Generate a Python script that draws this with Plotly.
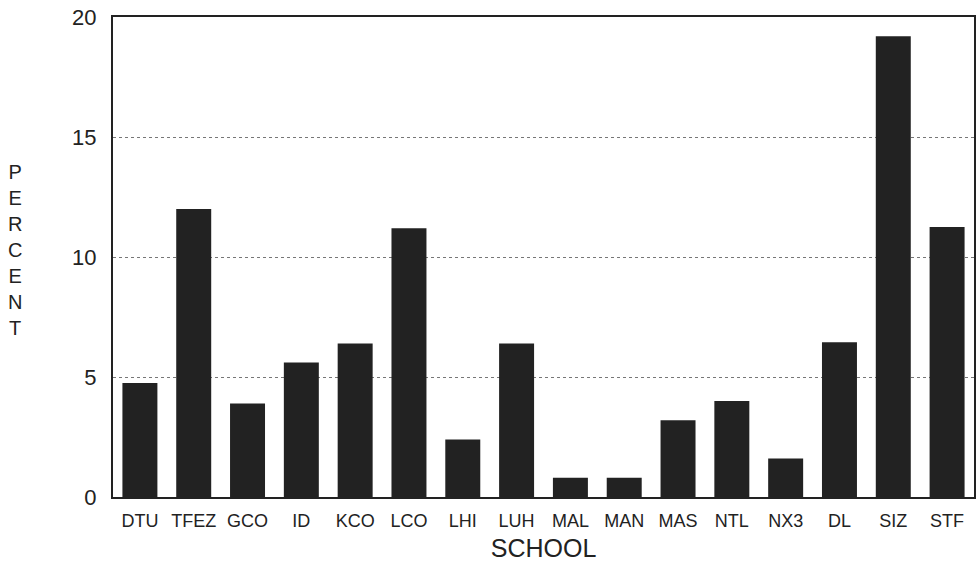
import plotly.graph_objects as go

schools = ["DTU", "TFEZ", "GCO", "ID", "KCO", "LCO", "LHI", "LUH", "MAL", "MAN",
           "MAS", "NTL", "NX3", "DL", "SIZ", "STF"]
percent = [4.75, 12.0, 3.9, 5.6, 6.4, 11.2, 2.4, 6.4, 0.8, 0.8,
           3.2, 4.0, 1.6, 6.45, 19.2, 11.25]
y_ticks = [0, 5, 10, 15, 20]

fig = go.Figure()
fig.add_trace(go.Bar(x=schools, y=percent, marker=dict(color="#222222", line=dict(width=0)),
                     width=0.65))

fig.update_layout(
    width=976, height=575,
    margin=dict(l=113, r=2, t=17, b=78),
    plot_bgcolor="white", paper_bgcolor="white",
    showlegend=False,
    font=dict(family="Liberation Sans, Arial, sans-serif", color="#222222"),
    bargap=0.35,
)
fig.update_xaxes(
    showline=True, linecolor="#222222", linewidth=2, mirror=True,
    ticks="", tickfont=dict(size=18), showgrid=False, automargin=False,
    ticklabelstandoff=6, tickangle=0,
    title=dict(text="SCHOOL", font=dict(size=25), standoff=10),
)
fig.update_yaxes(
    range=[0, 20], tickvals=y_ticks, showline=True, linecolor="#222222", linewidth=2, mirror=True,
    showgrid=True, gridcolor="#777777", griddash="dot", gridwidth=1, automargin=False,
    tickfont=dict(size=22), ticks="", ticklen=0, zeroline=False, ticklabelstandoff=10,
)
fig.add_annotation(
    text="<br>".join(list("PERCENT")), xref="paper", yref="paper",
    x=-0.114, y=0.515, xanchor="center", yanchor="middle", showarrow=False,
    font=dict(size=20), align="center",
)
fig.write_html("out.html", post_script="document.body.style.margin='0';",
               config={"displayModeBar": False})
